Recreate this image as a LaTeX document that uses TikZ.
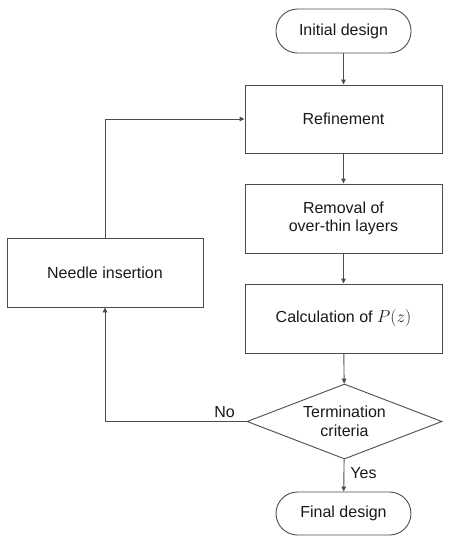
\documentclass[tikz,border=0pt]{standalone}
\usepackage{fontspec}
\setmainfont{Liberation Sans}
\usetikzlibrary{arrows.meta,shapes.geometric}
\begin{document}
\begin{tikzpicture}[x=1pt,y=-1pt,
  every node/.style={font=\fontsize{16}{18.5}\selectfont, text=black!90},
  box/.style={draw=black!70, line width=0.9pt, minimum width=197pt, minimum height=68pt, inner sep=0pt, align=center},
  term/.style={draw=black!70, line width=0.9pt, rounded corners=21.5pt, minimum width=135pt, minimum height=44pt, inner sep=0pt},
  dec/.style={draw=black!70, line width=0.9pt, diamond, aspect=2.6, minimum width=195pt, minimum height=75pt, inner sep=0pt, align=center},
  arr/.style={draw=black!70, line width=0.9pt, -{Triangle[length=5pt,width=4.5pt]}}
]
\useasboundingbox (0,0) rectangle (453,550);
\node[term] (init) at (343.5,31) {Initial design};
\node[box] (refine) at (343.5,119) {Refinement};
\node[box, minimum height=69pt] (removal) at (343.5,218.5) {Removal of\\over-thin layers};
\node[box, minimum height=69pt] (calc) at (343.5,318.5) {Calculation of $P(z)$};
\node[dec] (dia) at (344.5,421.5) {Termination\\criteria};
\node[term, minimum height=43pt] (final) at (343.5,513.5) {Final design};
\node[box, minimum width=196pt, minimum height=69pt] (needle) at (105,272.5) {Needle insertion};

\draw[arr] (init) -- (refine);
\draw[arr] (refine) -- (removal);
\draw[arr] (removal) -- (calc);
\draw[arr] (calc) -- (dia);
\draw[arr] (dia) -- node[right, pos=0.42, inner sep=6pt] {Yes} (final);
\draw[arr] (dia.west) -- node[above, pos=0.155, inner sep=3pt] {No} (dia.west -| needle.south) -- (needle.south);
\draw[arr] (needle.north) |- (refine.west);
\end{tikzpicture}
\end{document}
